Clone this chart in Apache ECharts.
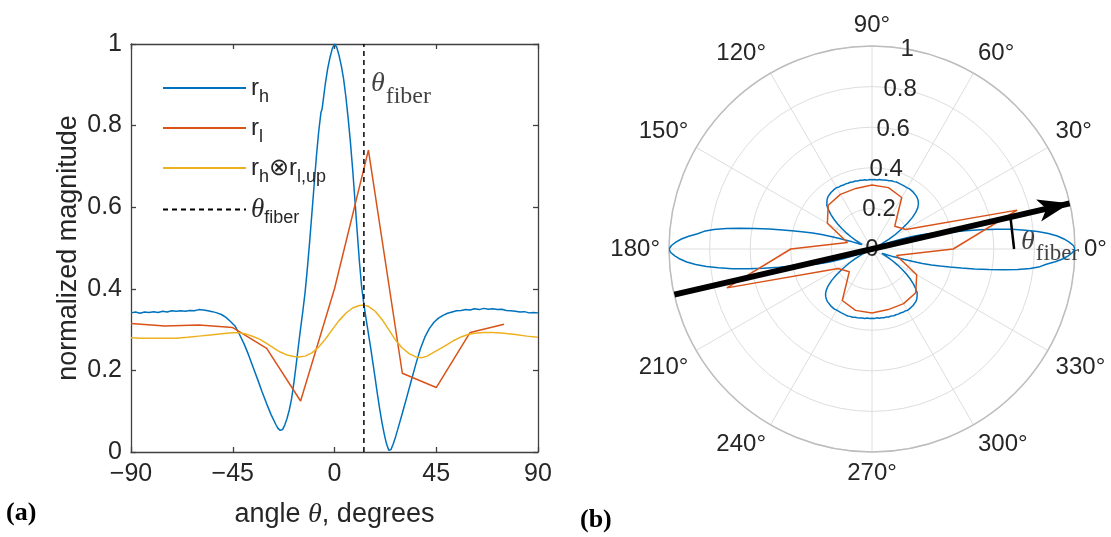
<!DOCTYPE html>
<html>
<head>
<meta charset="utf-8">
<script src="https://cdn.jsdelivr.net/npm/echarts@6/dist/echarts.min.js"></script>
<style>
html,body{margin:0;padding:0;background:#ffffff;}
#chart{width:1111px;height:537px;}
</style>
</head>
<body>
<div id="chart"></div>
<script>
// ---------------- data ----------------
const rhAngle = [-90,-88,-86,-84,-82,-80,-78,-76,-74,-72,-70,-68,-66,-64,-62,-60,-58,-56,-54,-52,-50,-48,-46,-44,-42,-40,-38,-36,-34,-32,-30,-28,-26,-25,-24,-23,-22,-21,-20,-19,-18,-17,-16,-15,-14,-13,-12,-11,-10,-9,-8,-7,-6,-5.5,-5,-4,-3,-2,-1,0,1,2,3,4,5,6,7,8,9,10,11,12,13,14,15,16,17,18,19,20,21,22,23,24,25,26,27,28,30,32,34,36,38,40,42,44,46,48,50,52,54,56,58,60,62,64,66,68,70,72,74,76,78,80,82,84,86,88,90];
const rhValue = [0.341,0.343,0.340,0.343,0.342,0.344,0.342,0.345,0.343,0.346,0.345,0.346,0.345,0.347,0.346,0.349,0.348,0.346,0.344,0.341,0.337,0.330,0.320,0.309,0.288,0.265,0.238,0.208,0.178,0.147,0.118,0.091,0.068,0.058,0.053,0.055,0.066,0.082,0.103,0.130,0.168,0.212,0.258,0.303,0.345,0.392,0.450,0.515,0.585,0.655,0.725,0.785,0.832,0.840,0.862,0.905,0.940,0.967,0.988,1.000,0.992,0.972,0.947,0.915,0.872,0.820,0.762,0.695,0.620,0.543,0.468,0.405,0.362,0.325,0.290,0.255,0.218,0.180,0.141,0.105,0.072,0.044,0.020,0.004,0.006,0.020,0.037,0.056,0.095,0.135,0.176,0.216,0.253,0.282,0.303,0.318,0.328,0.335,0.340,0.343,0.346,0.347,0.349,0.348,0.351,0.349,0.352,0.350,0.351,0.349,0.350,0.347,0.346,0.345,0.343,0.344,0.341,0.342,0.341];

const rlAngle = [-90,-75,-60,-45,-30,-15,0,15,30,45,60,75];
const rlValue = [0.315,0.309,0.311,0.305,0.254,0.125,0.400,0.740,0.193,0.158,0.293,0.313];

const convAngle = [-90,-85,-80,-75,-70,-65,-60,-55,-50,-45,-42,-39,-36,-33,-30,-27,-24,-21,-18,-16,-13,-10,-7,-4,-1,2,5,8,11,13,15,18,21,24,27,30,33,36,38.5,41,44,47,50,53,56,59,62,66,70,75,80,85,90];
const convValue = [0.280,0.279,0.279,0.279,0.279,0.281,0.284,0.287,0.290,0.292,0.292,0.289,0.283,0.276,0.266,0.255,0.245,0.238,0.234,0.233,0.235,0.243,0.257,0.277,0.300,0.322,0.340,0.353,0.359,0.360,0.357,0.345,0.325,0.300,0.274,0.255,0.241,0.233,0.231,0.235,0.245,0.254,0.264,0.274,0.282,0.288,0.291,0.293,0.293,0.291,0.288,0.284,0.281];

const fiberAngle = 13;

const xTicks = [-90,-45,0,45,90];
const yTicks = [0,0.2,0.4,0.6,0.8,1];
const polarAngleTicks = [0,30,60,90,120,150,180,210,240,270,300,330];
const polarRadiusTicks = [0,0.2,0.4,0.6,0.8,1];

// ---------------- helpers ----------------
const zip = (a, b) => a.map((v, i) => [v, b[i]]);
const wrap = a => ((a % 360) + 360) % 360;
function polarLoop(angles, values, close) {
  const pts = [];
  for (let k = 0; k < 2; k++) {
    for (let i = 0; i < angles.length; i++) pts.push([values[i], wrap(angles[i] + 180 * k)]);
  }
  if (close) pts.push(pts[0].slice());
  return pts;
}

const SANS = '"Liberation Sans", Arial, Helvetica, sans-serif';
const SERIF = '"Liberation Serif", "Times New Roman", serif';
const TXT = '#262626';
const AX = '#404040';
const BLUE = '#0072BD', ORANGE = '#D95319', YELLOW = '#EDB120';

const legendNames = {
  rh: '{m|r}{s|h}',
  rl: '{m|r}{s|l}',
  conv: '{m|r}{s|h}{m|⊗r}{s|l,up}',
  fiber: '{t|θ}{s|fiber}'
};

const chart = echarts.init(document.getElementById('chart'), null, {renderer: 'canvas'});

const xCommon = {
  type: 'value', min: xTicks[0], max: xTicks[xTicks.length - 1], interval: xTicks[1] - xTicks[0],
  gridIndex: 0,
  axisLine: {onZero: false, lineStyle: {color: AX, width: 1.3}},
  axisTick: {inside: true, length: 5, lineStyle: {color: AX, width: 1.3}},
  splitLine: {show: false}
};
const yCommon = {
  type: 'value', min: yTicks[0], max: yTicks[yTicks.length - 1], interval: yTicks[1] - yTicks[0],
  gridIndex: 0,
  axisLine: {onZero: false, lineStyle: {color: AX, width: 1.3}},
  axisTick: {inside: true, length: 5, lineStyle: {color: AX, width: 1.3}},
  splitLine: {show: false}
};

const option = {
  animation: false,
  backgroundColor: '#ffffff',
  title: [
    {text: '(a)', left: 6, top: 500, padding: 0,
     textStyle: {fontFamily: SERIF, fontWeight: 'bold', fontSize: 26, color: '#000'}},
    {text: '(b)', left: 580, top: 507, padding: 0,
     textStyle: {fontFamily: SERIF, fontWeight: 'bold', fontSize: 26, color: '#000'}}
  ],
  grid: [{left: 131, right: 573, top: 44, bottom: 85}],
  legend: {
    orient: 'vertical', left: 157, top: 71,
    itemWidth: 83, itemHeight: 2, itemGap: 10,
    itemStyle: {opacity: 0},
    data: ['rh', 'rl', 'conv', 'fiber'],
    formatter: name => legendNames[name],
    textStyle: {
      color: TXT,
      rich: {
        m: {fontFamily: SANS, fontSize: 24, lineHeight: 36, verticalAlign: 'middle', color: TXT},
        s: {fontFamily: SANS, fontSize: 18, lineHeight: 18, verticalAlign: 'bottom', color: TXT},
        t: {fontFamily: SERIF, fontStyle: 'italic', fontSize: 27, lineHeight: 36, verticalAlign: 'middle', color: TXT}
      }
    }
  },
  xAxis: [
    Object.assign({}, xCommon, {
      position: 'bottom',
      axisLabel: {fontFamily: SANS, fontSize: 25, color: TXT, margin: 10,
                  formatter: v => String(v).replace('-', '\u2212')},
      name: 'angle {t|θ}, degrees', nameLocation: 'middle', nameGap: 48,
      nameTextStyle: {fontFamily: SANS, fontSize: 27, color: TXT, lineHeight: 30,
        rich: {t: {fontFamily: SERIF, fontStyle: 'italic', fontSize: 28, lineHeight: 30, color: TXT}}}
    }),
    Object.assign({}, xCommon, {position: 'top', axisLabel: {show: false}})
  ],
  yAxis: [
    Object.assign({}, yCommon, {
      position: 'left',
      axisLabel: {fontFamily: SANS, fontSize: 25, color: TXT, margin: 9},
      name: 'normalized magnitude', nameLocation: 'middle', nameGap: 46, nameRotate: 90,
      nameTextStyle: {fontFamily: SANS, fontSize: 27, color: TXT, lineHeight: 30}
    }),
    Object.assign({}, yCommon, {position: 'right', axisLabel: {show: false}})
  ],
  polar: [
    {center: [872, 249], radius: 203},
    {center: [872, 249], radius: 203}
  ],
  angleAxis: [
    {
      polarIndex: 0, type: 'value', min: 0, max: 360, interval: 30,
      startAngle: 0, clockwise: false,
      axisLine: {show: true, lineStyle: {color: '#bdbdbd', width: 1.5}},
      axisTick: {show: false},
      splitLine: {show: true, lineStyle: {color: '#dedede', width: 1}},
      axisLabel: {fontFamily: SANS, fontSize: 24, color: TXT, margin: 9,
                  formatter: v => (polarAngleTicks.indexOf(v) >= 0 ? v + '°' : '')}
    },
    {
      polarIndex: 1, type: 'value', min: 0, max: 360, startAngle: 80, clockwise: false,
      show: false
    }
  ],
  radiusAxis: [
    {
      polarIndex: 0, type: 'value', min: polarRadiusTicks[0], max: polarRadiusTicks[polarRadiusTicks.length - 1],
      interval: polarRadiusTicks[1] - polarRadiusTicks[0],
      axisLine: {show: false}, axisTick: {show: false}, axisLabel: {show: false},
      splitLine: {show: true, lineStyle: {color: '#dedede', width: 1}}
    },
    {
      polarIndex: 1, type: 'value', min: polarRadiusTicks[0], max: polarRadiusTicks[polarRadiusTicks.length - 1],
      interval: polarRadiusTicks[1] - polarRadiusTicks[0],
      axisLine: {show: false}, axisTick: {show: false}, splitLine: {show: false},
      axisLabel: {show: true, margin: 0, align: 'center', verticalAlign: 'middle',
                  fontFamily: SANS, fontSize: 24, color: TXT}
    }
  ],
  series: [
    {name: 'rh', type: 'line', xAxisIndex: 0, yAxisIndex: 0, data: zip(rhAngle, rhValue),
     symbol: 'none', color: BLUE, lineStyle: {color: BLUE, width: 1.5}, z: 3},
    {name: 'rl', type: 'line', xAxisIndex: 0, yAxisIndex: 0, data: zip(rlAngle, rlValue),
     symbol: 'none', color: ORANGE, lineStyle: {color: ORANGE, width: 1.5}, z: 3},
    {name: 'conv', type: 'line', xAxisIndex: 0, yAxisIndex: 0, data: zip(convAngle, convValue),
     symbol: 'none', color: YELLOW, lineStyle: {color: YELLOW, width: 1.5}, z: 3},
    {name: 'fiber', type: 'line', xAxisIndex: 0, yAxisIndex: 0,
     data: [[fiberAngle, yTicks[0]], [fiberAngle, yTicks[yTicks.length - 1]]],
     symbol: 'none', color: '#000', lineStyle: {color: '#000', width: 1.5, type: [5, 4]}, z: 4},
    {name: 'fiberLabelA', type: 'scatter', xAxisIndex: 0, yAxisIndex: 0,
     data: [[fiberAngle, 0.9]], symbolSize: 0, silent: true,
     label: {show: true, position: 'right', distance: 7, formatter: '{t|θ}{s|fiber}',
       rich: {
         t: {fontFamily: SERIF, fontStyle: 'italic', fontSize: 28, lineHeight: 30, verticalAlign: 'top', color: '#111'},
         s: {fontFamily: SERIF, fontSize: 24, lineHeight: 26, padding: [15, 0, 0, 1], verticalAlign: 'top', color: '#111'}
       }}},
    // polar plot
    {name: 'rhPolar', type: 'line', coordinateSystem: 'polar', polarIndex: 0,
     data: polarLoop(rhAngle, rhValue, false), symbol: 'none',
     lineStyle: {color: BLUE, width: 1.5}, color: BLUE, clip: false, z: 3},
    {name: 'rlPolar', type: 'line', coordinateSystem: 'polar', polarIndex: 0,
     data: polarLoop(rlAngle, rlValue, true), symbol: 'none',
     lineStyle: {color: ORANGE, width: 1.5}, color: ORANGE, clip: false, z: 3},
    {name: 'fiberArrow', type: 'line', coordinateSystem: 'polar', polarIndex: 0,
     data: [[1, fiberAngle + 180],
            {value: [1, fiberAngle], symbol: 'arrow', symbolSize: [17, 32], symbolRotate: fiberAngle - 90}],
     symbol: 'none', clip: false, color: '#000',
     itemStyle: {color: '#000'}, lineStyle: {color: '#000', width: 6}, z: 5},
    {name: 'fiberArc', type: 'line', coordinateSystem: 'polar', polarIndex: 0,
     data: [[0.7, 0], [0.7, fiberAngle]], symbol: 'none', clip: false,
     lineStyle: {color: '#000', width: 2.5}, color: '#000', z: 5},
    {name: 'fiberLabelB', type: 'scatter', coordinateSystem: 'polar', polarIndex: 0,
     data: [[0.7, 2.5]], symbolSize: 0, silent: true,
     label: {show: true, position: 'right', distance: 7, formatter: '{t|θ}{s|fiber}',
       rich: {
         t: {fontFamily: SERIF, fontStyle: 'italic', fontSize: 28, lineHeight: 30, verticalAlign: 'top', color: '#111'},
         s: {fontFamily: SERIF, fontSize: 23, lineHeight: 26, padding: [15, 0, 0, 1], verticalAlign: 'top', color: '#111'}
       }}}
  ]
};

chart.setOption(option);
</script>
</body>
</html>
